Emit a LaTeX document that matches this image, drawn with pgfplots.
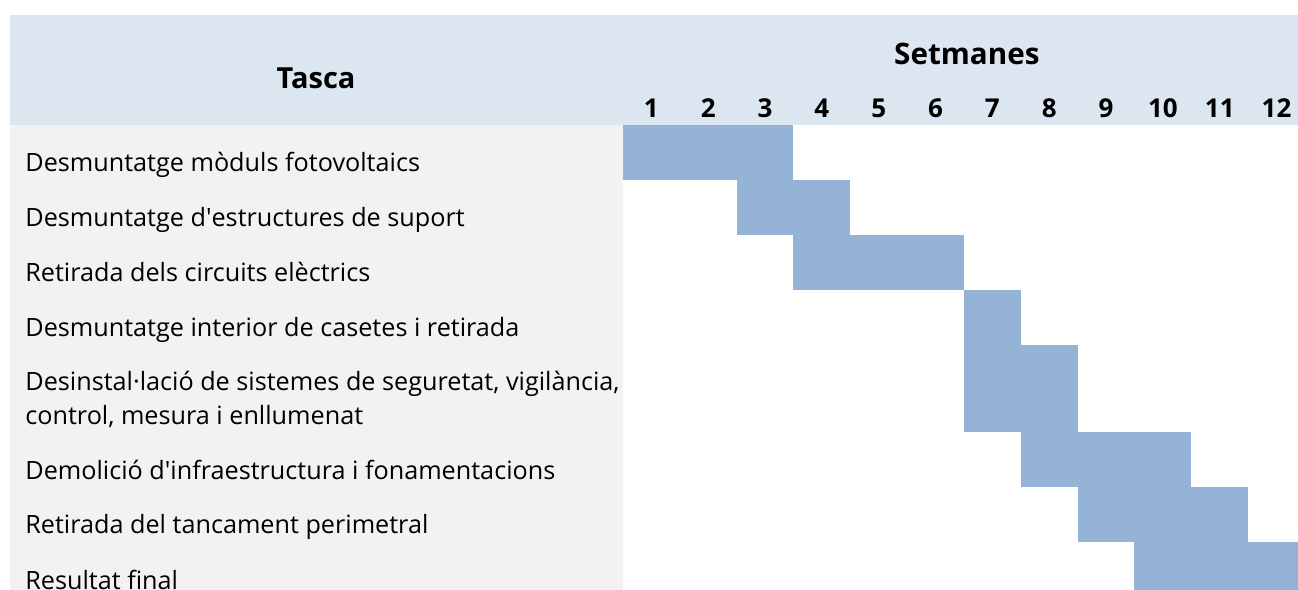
\documentclass[border=0pt]{standalone}
\usepackage{fontspec}
\setmainfont{Open Sans}
\usepackage{pgfplots}
\pgfplotsset{compat=1.18}
\definecolor{headBlue}{HTML}{DCE6F1}
\definecolor{colGray}{HTML}{F2F2F2}
\definecolor{barBlue}{HTML}{95B3D7}
\begin{document}
\begin{tikzpicture}
  % x in weeks (0..12 is the grid), y in reference pixels, downwards
  \begin{axis}[
    set layers,
    width=341pt, height=232.5pt, scale only axis,
    xmin=0, xmax=12, ymin=125, ymax=590,
    y dir=reverse,
    clip=false,
    axis line style={draw=none},
    tick style={draw=none},
    ytick=\empty,
    xtick={0.5,1.5,...,11.5},
    xticklabels={1,2,3,4,5,6,7,8,9,10,11,12},
    xticklabel pos=upper,
    xticklabel style={anchor=base, yshift=3.5pt, inner sep=0pt,
      font=\fontsize{13}{15}\selectfont\bfseries},
  ]
    % backgrounds
    \begin{pgfonlayer}{axis background}
      \fill[white] (axis cs:-10.962,0) rectangle (axis cs:12,590);
      \fill[headBlue] (axis cs:-10.786,15) rectangle (axis cs:12,125);
      \fill[colGray] (axis cs:-10.786,125) rectangle (axis cs:0,590);
    \end{pgfonlayer}

    % tasks
    \addplot[fill=barBlue, draw=none] coordinates {(0,125) (3,125) (3,180) (0,180)};
    \addplot[fill=barBlue, draw=none] coordinates {(2,180) (4,180) (4,235) (2,235)};
    \addplot[fill=barBlue, draw=none] coordinates {(3,235) (6,235) (6,290) (3,290)};
    \addplot[fill=barBlue, draw=none] coordinates {(6,290) (7,290) (7,345) (6,345)};
    \addplot[fill=barBlue, draw=none] coordinates {(6,345) (8,345) (8,432) (6,432)};
    \addplot[fill=barBlue, draw=none] coordinates {(7,432) (10,432) (10,487) (7,487)};
    \addplot[fill=barBlue, draw=none] coordinates {(8,487) (11,487) (11,542) (8,542)};
    \addplot[fill=barBlue, draw=none] coordinates {(9,542) (12,542) (12,590) (9,590)};

    % headers
    \node[anchor=base, font=\fontsize{14.5}{17}\selectfont\bfseries]
      at (axis cs:-5.40,89) {Tasca};
    \node[anchor=base, font=\fontsize{14.8}{17}\selectfont\bfseries]
      at (axis cs:6.05,65) {Setmanes};

    % task names
    \begin{scope}[every node/.style={anchor=base west, inner sep=0pt,
        font=\fontsize{12.6}{16.5}\selectfont}]
      \node at (axis cs:-10.522,172) {Desmuntatge mòduls fotovoltaics};
      \node at (axis cs:-10.522,227) {Desmuntatge d\textquotesingle estructures de suport};
      \node at (axis cs:-10.522,282) {Retirada dels circuits elèctrics};
      \node at (axis cs:-10.522,337) {Desmuntatge interior de casetes i retirada};
      \node at (axis cs:-10.522,391) {Desinstal·lació de sistemes de seguretat, vigilància,};
      \node at (axis cs:-10.522,425) {control, mesura i enllumenat};
      \node at (axis cs:-10.522,479) {Demolició d\textquotesingle infraestructura i fonamentacions};
      \node at (axis cs:-10.522,534) {Retirada del tancament perimetral};
      \node at (axis cs:-10.522,589) {Resultat final};
    \end{scope}
  \end{axis}
  % the reference is cut at the right, inside week 12
  \pgfresetboundingbox
  \useasboundingbox (-311.5pt,0) rectangle (337.5pt,295pt);
\end{tikzpicture}
\end{document}
